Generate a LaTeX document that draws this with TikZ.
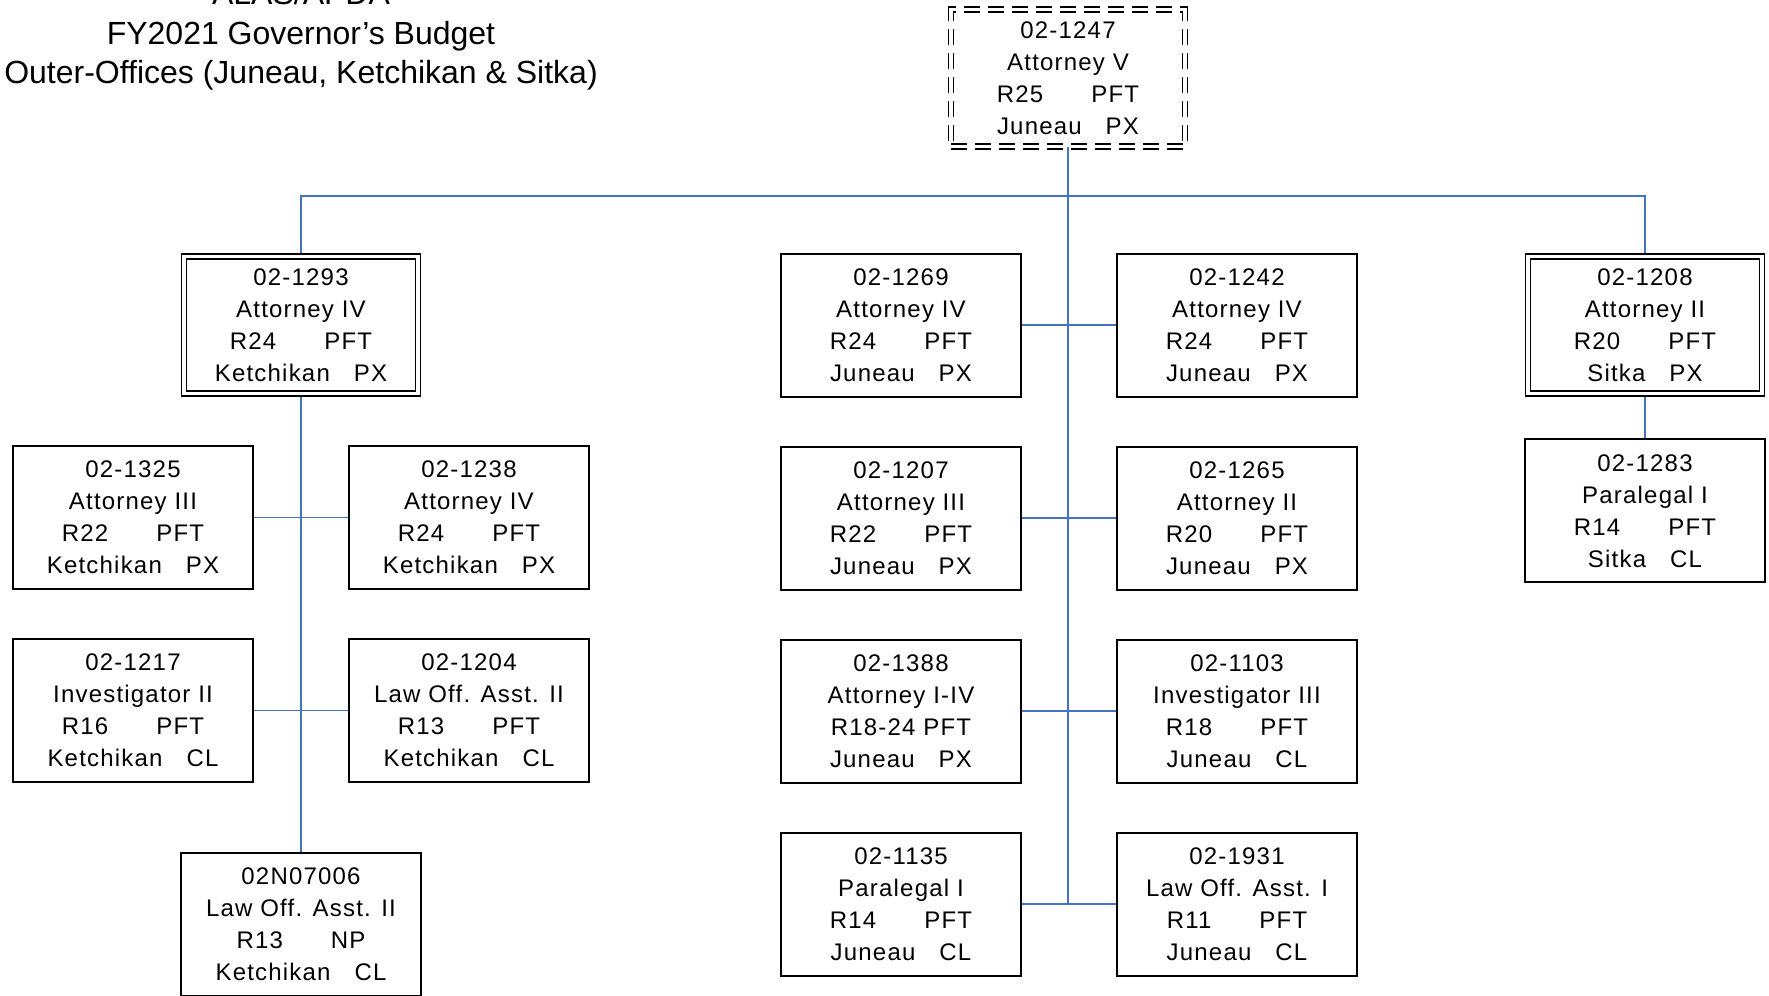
\documentclass[tikz,border=0pt]{standalone}
\usepackage{fontspec}
\setmainfont{Liberation Sans}
\usetikzlibrary{positioning, backgrounds}
\definecolor{linkblue}{RGB}{68,114,196}
\newcommand{\gap}{\hspace{2em}}
\newcommand{\sgap}{\hspace{1em}}

\begin{document}
\begin{tikzpicture}[
    x=0.5pt, y=0.5pt,
    node distance=24pt and 47pt,
    pcn/.style={rectangle, draw, line width=1pt, fill=white, align=center, minimum width=120pt, minimum height=71.5pt, font=\fontsize{12}{16}\selectfont\addfontfeatures{LetterSpace=5}},
    lead/.style={pcn, double, line width=0.75pt, double distance=1.6pt, minimum width=117pt, minimum height=68.5pt},
    chief/.style={lead, dash pattern=on 8pt off 4pt},
    link/.style={draw=linkblue, line width=0.85pt}
  ]
  \useasboundingbox (0,0) rectangle (1769,-996);

  \node[align=center, font=\fontsize{16}{19.75}\selectfont] (title) at (301,-36) {ALAS/APDA\\FY2021 Governor’s Budget\\Outer-Offices (Juneau, Ketchikan \& Sitka)};

  \node[chief] (pcn1247) at (1068,-78) {02-1247\\Attorney V\\R25\gap PFT\\Juneau\sgap PX};

  % Ketchikan
  \node[lead] (pcn1293) at (301,-325) {02-1293\\Attorney IV\\R24\gap PFT\\Ketchikan\sgap PX};
  \node[pcn] (pcn1325) at (133,-517.5) {02-1325\\Attorney III\\R22\gap PFT\\Ketchikan\sgap PX};
  \node[pcn, right=of pcn1325] (pcn1238) {02-1238\\Attorney IV\\R24\gap PFT\\Ketchikan\sgap PX};
  \node[pcn, below=of pcn1325] (pcn1217) {02-1217\\Investigator II\\R16\gap PFT\\Ketchikan\sgap CL};
  \node[pcn, below=of pcn1238] (pcn1204) {02-1204\\Law Off. Asst. II\\R13\gap PFT\\Ketchikan\sgap CL};
  \node[pcn] (pcn02N07006) at (301,-924.5) {02N07006\\Law Off. Asst. II\\R13\gap NP\\Ketchikan\sgap CL};

  % Juneau
  \node[pcn] (pcn1269) at (901,-325) {02-1269\\Attorney IV\\R24\gap PFT\\Juneau\sgap PX};
  \node[pcn, right=of pcn1269] (pcn1242) {02-1242\\Attorney IV\\R24\gap PFT\\Juneau\sgap PX};
  \node[pcn, below=of pcn1269] (pcn1207) {02-1207\\Attorney III\\R22\gap PFT\\Juneau\sgap PX};
  \node[pcn, below=of pcn1242] (pcn1265) {02-1265\\Attorney II\\R20\gap PFT\\Juneau\sgap PX};
  \node[pcn, below=of pcn1207] (pcn1388) {02-1388\\Attorney I-IV\\R18-24 PFT\\Juneau\sgap PX};
  \node[pcn, below=of pcn1265] (pcn1103) {02-1103\\Investigator III\\R18\gap PFT\\Juneau\sgap CL};
  \node[pcn, below=of pcn1388] (pcn1135) {02-1135\\Paralegal I\\R14\gap PFT\\Juneau\sgap CL};
  \node[pcn, below=of pcn1103] (pcn1931) {02-1931\\Law Off. Asst. I\\R11\gap PFT\\Juneau\sgap CL};

  % Sitka
  \node[lead] (pcn1208) at (1645,-325) {02-1208\\Attorney II\\R20\gap PFT\\Sitka\sgap PX};
  \node[pcn, below=22pt of pcn1208] (pcn1283) {02-1283\\Paralegal I\\R14\gap PFT\\Sitka\sgap CL};

  \begin{scope}[on background layer]
    \coordinate (bus) at (1068,-196);
    \draw[link] (pcn1293.north) |- (bus) -| (pcn1208.north);
    \draw[link] (pcn1247.south) -- (pcn1247.south |- pcn1135.east);
    \draw[link] (pcn1293) -- (pcn02N07006);
    \draw[link] (pcn1325) -- (pcn1238);
    \draw[link] (pcn1217) -- (pcn1204);
    \draw[link] (pcn1269) -- (pcn1242);
    \draw[link] (pcn1207) -- (pcn1265);
    \draw[link] (pcn1388) -- (pcn1103);
    \draw[link] (pcn1135) -- (pcn1931);
    \draw[link] (pcn1208) -- (pcn1283);
  \end{scope}
\end{tikzpicture}
\end{document}
